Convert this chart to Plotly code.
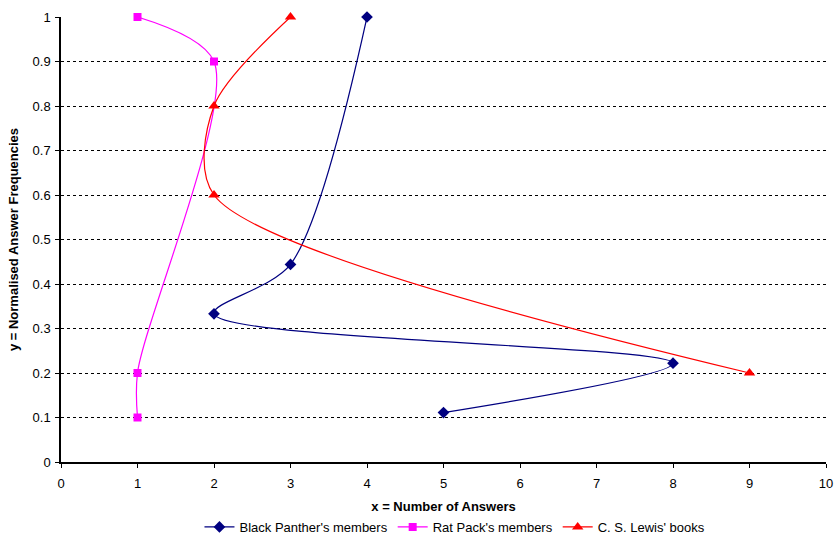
import plotly.graph_objects as go

bp_x = [4, 3, 2, 8, 5]
bp_y = [1.0, 0.444, 0.333, 0.222, 0.111]
rp_x = [1, 2, 1, 1]
rp_y = [1.0, 0.9, 0.2, 0.1]
cs_x = [3, 2, 2, 9]
cs_y = [1.0, 0.8, 0.6, 0.2]

SM = 0.85
fig = go.Figure()
fig.add_trace(go.Scatter(x=bp_x, y=bp_y, name="Black Panther's members", mode="lines+markers",
                         cliponaxis=False,
                         line=dict(color="#000080", width=1.2, shape="spline", smoothing=SM),
                         marker=dict(symbol="diamond", size=9, color="#000080")))
fig.add_trace(go.Scatter(x=rp_x, y=rp_y, name="Rat Pack's members", mode="lines+markers",
                         cliponaxis=False,
                         line=dict(color="#FF00FF", width=1.2, shape="spline", smoothing=SM),
                         marker=dict(symbol="square", size=8, color="#FF00FF")))
fig.add_trace(go.Scatter(x=cs_x, y=cs_y, name="C. S. Lewis' books", mode="lines+markers",
                         cliponaxis=False,
                         line=dict(color="#FF0000", width=1.2, shape="spline", smoothing=SM),
                         marker=dict(symbol="triangle-up", size=10, color="#FF0000")))

font = "Liberation Sans, Arial, sans-serif"
fig.update_layout(
    width=834, height=535,
    margin=dict(l=61, r=8, t=17, b=73, autoexpand=False),
    paper_bgcolor="white", plot_bgcolor="white",
    font=dict(family=font, size=13, color="black"),
    showlegend=True,
    legend=dict(orientation="h", x=0.515, xanchor="center", y=-0.146, yanchor="middle",
                font=dict(size=13), itemwidth=30, traceorder="normal"),
    xaxis=dict(range=[0, 10], dtick=1, showgrid=False, zeroline=False, automargin=False,
               showline=True, linecolor="black", linewidth=1.5,
               ticks="outside", ticklen=4, tickcolor="black", tickfont=dict(size=13),
               ticklabelstandoff=5,
               title=dict(text="<b>x = Number of Answers</b>", font=dict(size=13), standoff=12)),
    yaxis=dict(range=[0, 1], dtick=0.1, showgrid=True, gridcolor="black", griddash="3px,3px",
               gridwidth=1, zeroline=False, automargin=False,
               showline=True, linecolor="black", linewidth=1.5,
               ticks="outside", ticklen=4, tickcolor="black", tickfont=dict(size=13),
               ticklabelstandoff=2,
               title=dict(text="<b>y = Normalised Answer Frequencies</b>", font=dict(size=13), standoff=11)),
)
fig.write_html("out.html", config={"displayModeBar": False},
               post_script="document.body.style.margin='0';document.body.style.overflow='hidden';")
